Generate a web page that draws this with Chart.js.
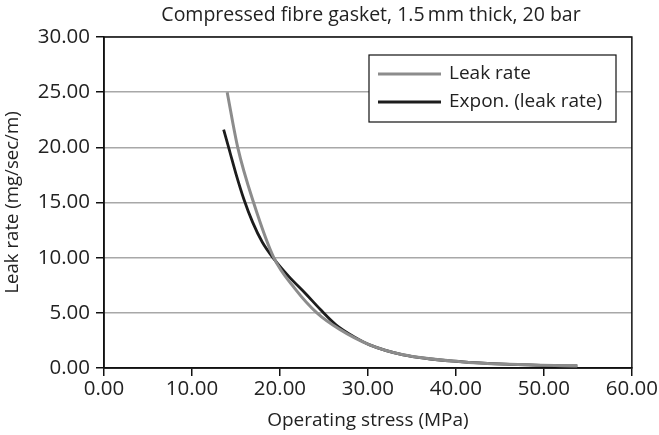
<!DOCTYPE html>
<html>
<head>
<meta charset="utf-8">
<script src="https://cdn.jsdelivr.net/npm/chart.js@4/dist/chart.umd.min.js"></script>
<style>
  html, body { margin: 0; padding: 0; background: #fff; }
  #wrap { width: 659px; height: 435px; }
</style>
</head>
<body>
<div id="wrap"><canvas id="c" width="659" height="435"></canvas></div>
<script>
// ---- data ----
const titleText = "Compressed fibre gasket, 1.5\u2009mm thick, 20 bar";
const xAxisTitle = "Operating stress (MPa)";
const yAxisTitle = "Leak rate (mg/sec/m)";
const seriesNames = ["Leak rate", "Expon. (leak rate)"];

const leakX = [14.0, 15.2, 17.0, 19.3, 21.7, 24.2, 26.8, 30.2, 34.0, 40.5, 46.1, 53.8];
const leakY = [25.0, 20.0, 15.0, 10.0, 7.2, 5.0, 3.5, 2.1, 1.2, 0.57, 0.33, 0.18];

const expX = [13.6, 14.3, 15.0, 15.9, 16.9, 18.0, 19.4, 21.0, 22.9, 24.6, 26.4, 28.5, 30.2, 34.0, 40.5, 46.1, 53.8];
const expY = [21.6, 19.6, 17.6, 15.3, 13.2, 11.4, 9.8, 8.3, 6.75, 5.3, 3.9, 2.8, 2.1, 1.2, 0.57, 0.33, 0.18];

const xTicks = [0, 10, 20, 30, 40, 50, 60];
const yTicks = [0, 5, 10, 15, 20, 25, 30];

const toPts = (xs, ys) => xs.map((x, i) => ({ x: x, y: ys[i] }));

const FONT = "'Open Sans', 'DejaVu Sans', sans-serif";
const TXT = "#222";

const frameAndLegend = {
  id: 'frameAndLegend',
  beforeDatasetsDraw(chart) {
    const a = chart.chartArea, ctx = chart.ctx;
    ctx.save();
    ctx.strokeStyle = '#111';
    ctx.lineWidth = 1.5;
    ctx.strokeRect(a.left, a.top, a.right - a.left, a.bottom - a.top);
    ctx.restore();
  },
  afterDatasetsDraw(chart) {
    const ctx = chart.ctx;
    ctx.save();
    // title
    ctx.font = "19.5px " + FONT;
    ctx.fillStyle = TXT;
    ctx.textAlign = 'center';
    ctx.textBaseline = 'alphabetic';
    ctx.fillText(titleText, 371, 21);
    // legend
    const bx = 369, by = 55, bw = 247, bh = 67;
    ctx.fillStyle = '#fff';
    ctx.fillRect(bx, by, bw, bh);
    ctx.strokeStyle = '#111';
    ctx.lineWidth = 1.2;
    ctx.strokeRect(bx, by, bw, bh);
    ctx.font = "19px " + FONT;
    ctx.textBaseline = 'middle';
    ctx.textAlign = 'left';
    chart.data.datasets.forEach((ds, i) => {
      const y = by + 19 + i * 28;
      ctx.strokeStyle = ds.borderColor;
      ctx.lineWidth = ds.borderWidth;
      ctx.beginPath();
      ctx.moveTo(bx + 9, y);
      ctx.lineTo(bx + 72, y);
      ctx.stroke();
      ctx.fillStyle = TXT;
      ctx.fillText(ds.label, bx + 80, y);
    });
    ctx.restore();
  }
};

new Chart(document.getElementById('c'), {
  type: 'line',
  data: {
    datasets: [
      {
        label: seriesNames[0],
        data: toPts(leakX, leakY),
        borderColor: '#8c8c8c',
        borderWidth: 3,
        pointRadius: 0,
        fill: false,
        cubicInterpolationMode: 'monotone'
      },
      {
        label: seriesNames[1],
        data: toPts(expX, expY),
        borderColor: '#1c1c1c',
        borderWidth: 2.8,
        pointRadius: 0,
        fill: false,
        cubicInterpolationMode: 'monotone'
      }
    ]
  },
  options: {
    responsive: false,
    animation: false,
    layout: { padding: { left: 0, right: 27, top: 37, bottom: 0 } },
    plugins: {
      legend: { display: false },
      tooltip: { enabled: false },
      title: { display: false }
    },
    scales: {
      x: {
        type: 'linear',
        min: 0, max: 60,
        afterFit(s) { s.height = 67; },
        afterBuildTicks(s) { s.ticks = xTicks.map(v => ({ value: v })); },
        ticks: {
          color: TXT,
          font: { family: FONT, size: 20.5 },
          padding: 1,
          maxRotation: 0,
          callback: v => Number(v).toFixed(2)
        },
        grid: { drawOnChartArea: false, drawTicks: true, tickLength: 8, color: '#111', tickColor: '#111', lineWidth: 1.5 },
        border: { display: true, color: '#111', width: 1.5 },
        title: {
          display: true, text: xAxisTitle, color: TXT,
          font: { family: FONT, size: 19 },
          padding: { top: 0, bottom: 3 }
        }
      },
      y: {
        type: 'linear',
        min: 0, max: 30,
        afterFit(s) { s.width = 104; },
        afterBuildTicks(s) { s.ticks = yTicks.map(v => ({ value: v })); },
        ticks: {
          color: TXT,
          font: { family: FONT, size: 20.5 },
          padding: 6,
          callback: v => Number(v).toFixed(2)
        },
        grid: {
          drawOnChartArea: true, drawTicks: true, tickLength: 8,
          color: '#a8a8a8', tickColor: '#111', lineWidth: 1.5
        },
        border: { display: true, color: '#111', width: 1.5 },
        title: {
          display: true, text: yAxisTitle, color: TXT,
          font: { family: FONT, size: 18.6 },
          padding: { top: 2, bottom: 0 }
        }
      }
    }
  },
  plugins: [frameAndLegend]
});
</script>
</body>
</html>
